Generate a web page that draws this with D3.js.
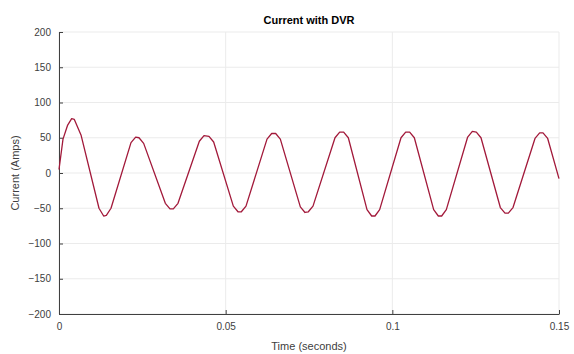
<!DOCTYPE html>
<html>
<head>
<meta charset="utf-8">
<script src="https://cdn.jsdelivr.net/npm/d3@7"></script>
<style>
  body { margin: 0; background: #fff; }
  text { font-family: "Liberation Sans", Arial, sans-serif; }
</style>
</head>
<body>
<div id="chart"></div>
<script>
// data
const time = [0.0000, 0.0012, 0.0026, 0.0038, 0.0046, 0.0066,
  0.0120, 0.0134, 0.0142, 0.0156, 0.0216, 0.0230, 0.0240, 0.0254,
  0.0319, 0.0333, 0.0343, 0.0357, 0.0421, 0.0435, 0.0450, 0.0464,
  0.0523, 0.0537, 0.0547, 0.0561, 0.0624, 0.0638, 0.0650, 0.0664,
  0.0724, 0.0738, 0.0748, 0.0762, 0.0828, 0.0842, 0.0854, 0.0868,
  0.0924, 0.0938, 0.0948, 0.0962, 0.1026, 0.1040, 0.1052, 0.1066,
  0.1124, 0.1138, 0.1148, 0.1162, 0.1226, 0.1240, 0.1252, 0.1266,
  0.1324, 0.1338, 0.1348, 0.1362, 0.1428, 0.1442, 0.1452, 0.1466,
  0.1500];
const current = [5, 48, 68, 77, 76, 54,
  -50, -61, -60, -50, 43, 51, 50, 42,
  -43, -51, -51, -43, 45, 53, 52, 44,
  -47, -55, -55, -47, 48, 56, 56, 48,
  -48, -56, -55, -47, 50, 58, 58, 50,
  -52, -61, -61, -52, 50, 58, 58, 50,
  -52, -61, -61, -52, 51, 59, 58, 50,
  -49, -57, -57, -49, 49, 57, 57, 49,
  -8];
const xTicks = [0, 0.05, 0.1, 0.15];
const xTickLabels = ['0', '0.05', '0.1', '0.15'];
const yTicks = [-200, -150, -100, -50, 0, 50, 100, 150, 200];

const width = 574, height = 354;
const margin = { top: 32, right: 15, bottom: 40, left: 59 };

const svg = d3.select('#chart').append('svg')
  .attr('width', width)
  .attr('height', height);

const x = d3.scaleLinear().domain([0, 0.15]).range([margin.left, width - margin.right]);
const y = d3.scaleLinear().domain([-200, 200]).range([height - margin.bottom, margin.top]);

// grid
svg.append('g').selectAll('line').data(yTicks).enter().append('line')
  .attr('x1', margin.left).attr('x2', width - margin.right)
  .attr('y1', d => y(d)).attr('y2', d => y(d))
  .attr('stroke', '#ebebeb').attr('stroke-width', 1);
svg.append('g').selectAll('line').data(xTicks).enter().append('line')
  .attr('y1', margin.top).attr('y2', height - margin.bottom)
  .attr('x1', d => x(d)).attr('x2', d => x(d))
  .attr('stroke', '#ebebeb').attr('stroke-width', 1);

// axes (ticks pointing inward)
const xAxis = svg.append('g')
  .attr('transform', `translate(0,${height - margin.bottom})`)
  .call(d3.axisBottom(x).tickValues(xTicks).tickFormat((d, i) => xTickLabels[i])
    .tickSizeInner(-4).tickSizeOuter(0).tickPadding(9));
const yAxis = svg.append('g')
  .attr('transform', `translate(${margin.left},0)`)
  .call(d3.axisLeft(y).tickValues(yTicks).tickSizeInner(-4).tickSizeOuter(0).tickPadding(8));

[xAxis, yAxis].forEach(a => {
  a.select('.domain').attr('stroke', '#404040');
  a.selectAll('.tick line').attr('stroke', '#404040');
  a.selectAll('.tick text').attr('fill', '#404040').style('font-size', '10px');
});

// line
const line = d3.line().x((d, i) => x(time[i])).y(d => y(d));
svg.append('path')
  .datum(current)
  .attr('d', line)
  .attr('fill', 'none')
  .attr('stroke', '#a2193a')
  .attr('stroke-width', 1.3)
  .attr('stroke-linejoin', 'round');

// title and labels
svg.append('text')
  .attr('x', (margin.left + width - margin.right) / 2).attr('y', 24)
  .attr('text-anchor', 'middle')
  .style('font-size', '11px').style('font-weight', 'bold')
  .attr('fill', '#000')
  .text('Current with DVR');
svg.append('text')
  .attr('x', (margin.left + width - margin.right) / 2).attr('y', 350)
  .attr('text-anchor', 'middle')
  .style('font-size', '11px').attr('fill', '#404040')
  .text('Time (seconds)');
svg.append('text')
  .attr('transform', `translate(19,${(margin.top + height - margin.bottom) / 2}) rotate(-90)`)
  .attr('text-anchor', 'middle')
  .style('font-size', '11px').attr('fill', '#404040')
  .text('Current (Amps)');
</script>
</body>
</html>
